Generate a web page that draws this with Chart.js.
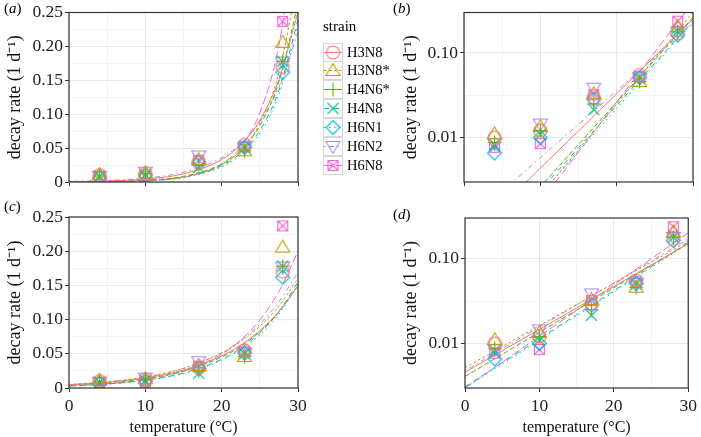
<!DOCTYPE html>
<html>
<head>
<meta charset="utf-8">
<script src="https://cdn.jsdelivr.net/npm/chart.js@4.4.1/dist/chart.umd.min.js"></script>
<style>
  body { margin: 0; width: 701px; height: 437px; background: #fff; position: relative; overflow: hidden; font-family: 'Liberation Serif', serif; }
  canvas.panel { position: absolute; }
  .tag { position: absolute; font-size: 15px; color: #000; }
  #legend { position: absolute; left: 0; top: 0; z-index: 5; }
  #legend .title { position: absolute; left: 323px; top: 18px; font-size: 15px; }
  #legend .row { position: absolute; left: 323px; height: 19px; font-size: 14.5px; line-height: 19px; white-space: nowrap; }
  #legend .row canvas { vertical-align: top; }
  #legend .row span { margin-left: 4px; }
</style>
</head>
<body>
<canvas id="pa" class="panel" style="left:0;top:0" width="320" height="200"></canvas>
<canvas id="pb" class="panel" style="left:396px;top:0" width="305" height="200"></canvas>
<canvas id="pc" class="panel" style="left:0;top:200px" width="320" height="237"></canvas>
<canvas id="pd" class="panel" style="left:396px;top:200px" width="305" height="237"></canvas>
<div class="tag" style="left:4px;top:0">(<i>a</i>)</div>
<div class="tag" style="left:393px;top:0">(<i>b</i>)</div>
<div class="tag" style="left:4px;top:198px">(<i>c</i>)</div>
<div class="tag" style="left:393px;top:206px">(<i>d</i>)</div>
<div id="legend"><div class="title">strain</div></div>
<script>
// 株の名前と色・記号・線種
const strains = ['H3N8', 'H3N8*', 'H4N6*', 'H4N8', 'H6N1', 'H6N2', 'H6N8'];
const colours = ['#F8766D', '#C49A00', '#53B400', '#00C094', '#00B6EB', '#A58AFF', '#FB61D7'];
const shapes = ['circle', 'triangle', 'plus', 'cross', 'diamond', 'triangleDown', 'squareCross'];
const dashes = [[], [2.5, 2.5], [5, 2.5], [5, 5], [1.5, 3.5], [1.5, 3.5, 5, 3.5], [8, 3.5]];

// 観測値 (温度 °C → 減衰率 1/d)
const temps = [4, 10, 17, 23, 28];
const obsH3N8  = [0.0100, 0.0121, 0.0293, 0.055, 0.170];
const obsH3N8s = [0.0111, 0.0135, 0.0330, 0.046, 0.206];
const obsH4N6s = [0.0088, 0.0121, 0.0251, 0.046, 0.178];
const obsH4N8  = [0.0083, 0.0110, 0.0215, 0.050, 0.178];
const obsH6N1  = [0.0066, 0.0100, 0.0285, 0.051, 0.162];
const obsH6N2  = [0.0085, 0.0145, 0.0384, 0.051, 0.177];
const obsH6N8  = [0.0077, 0.0085, 0.0320, 0.053, 0.237];

// フィット曲線
const fitTemps = [0, 5, 10, 15, 20, 22.5, 25, 27.5, 30];
// (a)(b) のモデル
const fitAH3N8  = [0.000575, 0.00158, 0.00437, 0.0120, 0.0331, 0.0550, 0.0912, 0.151, 0.251];
const fitAH3N8s = [0.000173, 0.000600, 0.00208, 0.00721, 0.0250, 0.0466, 0.0867, 0.161, 0.301];
const fitAH4N6s = [0.000263, 0.000832, 0.00263, 0.00832, 0.0263, 0.0468, 0.0832, 0.148, 0.263];
const fitAH4N8  = [0.000240, 0.000760, 0.00240, 0.00760, 0.0240, 0.0427, 0.0760, 0.135, 0.240];
const fitAH6N1  = [0.000203, 0.000656, 0.00212, 0.00687, 0.0222, 0.0400, 0.0719, 0.129, 0.233];
const fitAH6N2  = [0.000940, 0.00234, 0.00581, 0.0144, 0.0358, 0.0564, 0.0889, 0.140, 0.221];
const fitAH6N8  = [0.000115, 0.000447, 0.00174, 0.00676, 0.0263, 0.0519, 0.102, 0.202, 0.398];
// (c)(d) のモデル
const fitBH3N8  = [0.00460, 0.00822, 0.0147, 0.0262, 0.0469, 0.0627, 0.0838, 0.112, 0.150];
const fitBH3N8s = [0.00520, 0.00920, 0.0163, 0.0288, 0.0511, 0.0679, 0.0904, 0.120, 0.160];
const fitBH4N6s = [0.00410, 0.00747, 0.0136, 0.0248, 0.0452, 0.0610, 0.0823, 0.111, 0.150];
const fitBH4N8  = [0.00310, 0.00594, 0.0114, 0.0219, 0.0420, 0.0581, 0.0805, 0.112, 0.155];
const fitBH6N1  = [0.00300, 0.00575, 0.0110, 0.0212, 0.0406, 0.0563, 0.0780, 0.108, 0.150];
const fitBH6N2  = [0.00480, 0.00869, 0.0157, 0.0285, 0.0516, 0.0695, 0.0935, 0.126, 0.169];
const fitBH6N8  = [0.00300, 0.00604, 0.0122, 0.0245, 0.0493, 0.0700, 0.0993, 0.141, 0.200];

const observed = [obsH3N8, obsH3N8s, obsH4N6s, obsH4N8, obsH6N1, obsH6N2, obsH6N8];
const fitA = [fitAH3N8, fitAH3N8s, fitAH4N6s, fitAH4N8, fitAH6N1, fitAH6N2, fitAH6N8];
const fitB = [fitBH3N8, fitBH3N8s, fitBH4N6s, fitBH4N8, fitBH6N1, fitBH6N2, fitBH6N8];

const serif = 'Liberation Serif';

// 記号を小さな canvas に描く
function marker(shape, col) {
  const n = 17, m = n / 2;
  const c = document.createElement('canvas');
  c.width = n; c.height = n;
  const g = c.getContext('2d');
  g.strokeStyle = col;
  g.lineWidth = 1.1;
  g.beginPath();
  switch (shape) {
    case 'circle': g.arc(m, m, 6.5, 0, Math.PI * 2); break;
    case 'triangle': g.moveTo(m, m - 7); g.lineTo(m + 7, m + 5); g.lineTo(m - 7, m + 5); g.closePath(); break;
    case 'triangleDown': g.moveTo(m, m + 7); g.lineTo(m + 7, m - 5); g.lineTo(m - 7, m - 5); g.closePath(); break;
    case 'plus': g.moveTo(m - 7, m); g.lineTo(m + 7, m); g.moveTo(m, m - 7); g.lineTo(m, m + 7); break;
    case 'cross': g.moveTo(m - 5.5, m - 5.5); g.lineTo(m + 5.5, m + 5.5); g.moveTo(m + 5.5, m - 5.5); g.lineTo(m - 5.5, m + 5.5); break;
    case 'diamond': g.moveTo(m, m - 7); g.lineTo(m + 7, m); g.lineTo(m, m + 7); g.lineTo(m - 7, m); g.closePath(); break;
    case 'squareCross':
      g.rect(m - 5, m - 5, 10, 10);
      g.moveTo(m - 5, m - 5); g.lineTo(m + 5, m + 5);
      g.moveTo(m + 5, m - 5); g.lineTo(m - 5, m + 5);
      break;
  }
  g.stroke();
  return c;
}
const markers = shapes.map((s, i) => marker(s, colours[i]));

// パネルの枠
const frame = {
  id: 'frame',
  afterDraw(chart) {
    const { ctx, chartArea: a } = chart;
    ctx.save();
    ctx.strokeStyle = '#333';
    ctx.lineWidth = 1.2;
    ctx.strokeRect(a.left, a.top, a.right - a.left, a.bottom - a.top);
    ctx.restore();
  }
};

function makePanel(id, fits, logY, showX, pad) {
  let datasets = [];
  strains.forEach((s, i) => {
    datasets.push({
      label: s,
      data: temps.map((t, j) => ({ x: t, y: observed[i][j] })),
      showLine: false,
      pointStyle: markers[i],
      pointRadius: 6,
      borderColor: colours[i]
    });
  });
  strains.forEach((s, i) => {
    datasets.push({
      label: s + ' fit',
      data: fitTemps.map((t, j) => ({ x: t, y: fits[i][j] })),
      showLine: true,
      pointRadius: 0,
      borderColor: colours[i],
      borderWidth: 1,
      borderDash: dashes[i],
      cubicInterpolationMode: 'monotone'
    });
  });

  let yScale;
  if (logY) {
    yScale = {
      type: 'logarithmic', min: 0.003, max: 0.3,
      afterBuildTicks: (s) => { s.ticks = [0.01, 0.0316, 0.1].map(v => ({ value: v })); },
      ticks: {
        autoSkip: false, padding: 2, color: '#222', font: { family: serif, size: 17.5 },
        callback: (v) => v === 0.01 ? '0.01' : (v === 0.1 ? '0.10' : '')
      },
      grid: {
        color: (c) => (c.tick && c.tick.value === 0.0316) ? '#f4f4f4' : '#e8e8e8',
        tickColor: (c) => (c.tick && c.tick.value === 0.0316) ? 'rgba(0,0,0,0)' : '#333',
        tickLength: 4
      }
    };
  } else {
    yScale = {
      type: 'linear', min: 0, max: 0.25,
      ticks: {
        stepSize: 0.025, autoSkip: false, padding: 2, color: '#222', font: { family: serif, size: 17.5 },
        callback: (v, i) => i % 2 === 0 ? (i === 0 ? '0' : v.toFixed(2)) : ''
      },
      grid: {
        color: (c) => c.index % 2 === 0 ? '#e8e8e8' : '#f4f4f4',
        tickColor: (c) => c.index % 2 === 0 ? '#333' : 'rgba(0,0,0,0)',
        tickLength: 4
      }
    };
  }
  yScale.border = { display: false };
  yScale.title = { display: true, text: 'decay rate (1 d⁻¹)', color: '#111', font: { family: serif, size: 18 }, padding: { top: 4, bottom: 0 } };
  yScale.afterFit = (s) => { s.width = pad.yw; };

  const xScale = {
    type: 'linear', min: 0, max: 30,
    ticks: {
      stepSize: 5, autoSkip: false, maxRotation: 0, padding: 4, color: '#222', font: { family: serif, size: 17.5 },
      callback: (v, i) => (showX && i % 2 === 0) ? String(v) : ''
    },
    grid: {
      color: (c) => c.index % 2 === 0 ? '#e8e8e8' : '#f4f4f4',
      tickColor: (c) => c.index % 2 === 0 ? '#333' : 'rgba(0,0,0,0)',
      tickLength: 4
    },
    border: { display: false },
    title: { display: showX, text: 'temperature (°C)', color: '#111', font: { family: serif, size: 16 }, padding: { top: 0, bottom: 0 } },
    afterFit: (s) => { s.height = showX ? 49 : 18; }
  };

  return new Chart(document.getElementById(id), {
    type: 'scatter',
    data: { datasets: datasets },
    options: {
      responsive: false,
      animation: false,
      layout: { padding: { top: pad.top, right: pad.right, left: 0, bottom: 0 } },
      plugins: { legend: { display: false }, tooltip: { enabled: false } },
      scales: { x: xScale, y: yScale }
    },
    plugins: [frame]
  });
}

makePanel('pa', fitA, false, false, { top: 12, right: 22, yw: 69 });
makePanel('pb', fitA, true, false, { top: 12, right: 8, yw: 68 });
makePanel('pc', fitB, false, true, { top: 17, right: 22, yw: 69 });
makePanel('pd', fitB, true, true, { top: 18, right: 8, yw: 69 });

// 凡例
const legend = document.getElementById('legend');
strains.forEach((s, i) => {
  const row = document.createElement('div');
  row.className = 'row';
  row.style.top = (42.5 + i * 18.9) + 'px';
  const key = document.createElement('canvas');
  key.width = 20; key.height = 19;
  const g = key.getContext('2d');
  g.strokeStyle = '#d6d6d6';
  g.lineWidth = 1;
  g.strokeRect(0.5, 0.5, 19, 18);
  g.strokeStyle = colours[i];
  g.setLineDash(dashes[i]);
  g.beginPath(); g.moveTo(1, 9.5); g.lineTo(19, 9.5); g.stroke();
  g.setLineDash([]);
  g.drawImage(markers[i], 10 - 8.5, 9.5 - 8.5);
  row.appendChild(key);
  const t = document.createElement('span');
  t.textContent = s;
  row.appendChild(t);
  legend.appendChild(row);
});
</script>
</body>
</html>
